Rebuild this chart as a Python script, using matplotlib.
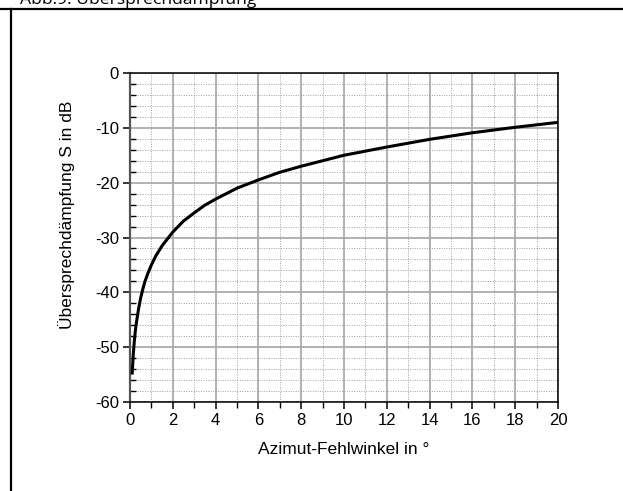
import matplotlib
matplotlib.use("Agg")
import matplotlib.pyplot as plt
from matplotlib.ticker import MultipleLocator
from matplotlib.lines import Line2D

# Azimuth error (degrees) and resulting crosstalk attenuation (dB)
azimut_deg = [0.1, 0.15, 0.2, 0.25, 0.3, 0.4, 0.5, 0.6, 0.7, 0.85, 1.0, 1.2,
              1.5, 2.0, 2.5, 3.0, 3.5, 4.0, 5.0, 6.0, 7.0, 8.0, 9.0, 10.0,
              12.0, 14.0, 16.0, 18.0, 20.0]
daempfung_db = [-55.0, -51.5, -49.0, -47.0, -45.5, -43.0, -41.0, -39.4, -38.0,
                -36.4, -35.0, -33.4, -31.5, -29.0, -27.0, -25.5, -24.1, -23.0,
                -21.0, -19.5, -18.1, -17.0, -16.0, -15.0, -13.5, -12.1, -10.9,
                -9.9, -9.0]

x_ticks = [0, 2, 4, 6, 8, 10, 12, 14, 16, 18, 20]
y_ticks = [-60, -50, -40, -30, -20, -10, 0]

plt.rcParams["font.family"] = ["Liberation Sans", "DejaVu Sans"]
plt.rcParams["axes.unicode_minus"] = False

fig = plt.figure(figsize=(6.23, 4.91), dpi=100)
ax = fig.add_axes([130 / 623, 1 - 402 / 491, 428 / 623, 329 / 491])

ax.plot(azimut_deg, daempfung_db, color="black", lw=2.2, solid_capstyle="butt", zorder=3)

ax.set_xlim(0, 20)
ax.set_ylim(-60, 0)
ax.set_xticks(x_ticks)
ax.set_yticks(y_ticks)
ax.xaxis.set_minor_locator(MultipleLocator(1))
ax.yaxis.set_minor_locator(MultipleLocator(2))

ax.grid(which="major", color="#ababab", lw=1.3, ls="-", zorder=1)
ax.grid(which="minor", color="#a0a0a0", lw=0.7, ls=(0, (1, 1.5)), zorder=1)
ax.set_axisbelow(True)

for s in ax.spines.values():
    s.set_color("black")
    s.set_linewidth(1.1)
ax.spines["left"].set_color("#555555")
ax.spines["left"].set_linewidth(1.6)

ax.tick_params(which="major", direction="out", length=5, width=1.1,
               labelsize=12, colors="black", pad=3)
ax.tick_params(axis="x", which="minor", direction="out", length=4, width=1.0)
ax.tick_params(axis="y", which="minor", direction="in", length=4, width=1.0)

# Axis titles
fig.text(344 / 623, 1 - 450 / 491, "Azimut-Fehlwinkel in °", fontsize=12.5,
         ha="center", va="center")
fig.text(67 / 623, 1 - 215 / 491, "Übersprechdämpfung S in dB", fontsize=12.5,
         rotation=90, ha="center", va="center")

# Caption and frame lines
fig.text(20 / 623, 1 - 4 / 491, "Abb.9: Übersprechdämpfung",
         fontsize=12.6, family=["Open Sans", "DejaVu Sans"], va="baseline", ha="left")
fig.add_artist(Line2D([0, 1], [1 - 8.5 / 491, 1 - 8.5 / 491], transform=fig.transFigure,
                      color="black", lw=1.6))
fig.add_artist(Line2D([11 / 623, 11 / 623], [0, 1 - 8.5 / 491], transform=fig.transFigure,
                      color="black", lw=1.6))

fig.savefig("out.png", dpi=100)
